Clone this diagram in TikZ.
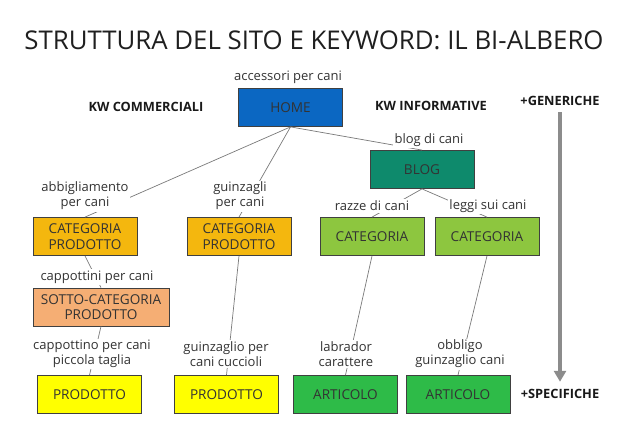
\documentclass[tikz,border=0pt]{standalone}
\usepackage{fontspec}
\setmainfont{Open Sans}
\usetikzlibrary{arrows.meta,positioning}
\definecolor{HomeBlue}{HTML}{0B67C2}
\definecolor{BlogTeal}{HTML}{0E8A6C}
\definecolor{CatGold}{HTML}{F4B70E}
\definecolor{SubPeach}{HTML}{F5AE74}
\definecolor{CatGreen}{HTML}{8DC63F}
\definecolor{ProdYellow}{HTML}{FFFF00}
\definecolor{ArtGreen}{HTML}{2EBB48}
\definecolor{TextDark}{HTML}{333333}
\definecolor{LinkGray}{HTML}{7A7A7A}
\definecolor{ArrowGray}{HTML}{8C8C8C}
\tikzset{
  pbox/.style={rectangle, draw=black!75, line width=0.8pt, align=center,
    minimum width=104pt, minimum height=38pt, inner sep=0pt,
    font=\fontsize{13.6}{15.5}\selectfont, text=TextDark},
  homebox/.style={pbox, fill=HomeBlue, text=black!80},
  blogbox/.style={pbox, fill=BlogTeal, text=black!80},
  catbox/.style={pbox, fill=CatGold},
  subbox/.style={pbox, fill=SubPeach, minimum width=136pt},
  greenbox/.style={pbox, fill=CatGreen},
  prodbox/.style={pbox, fill=ProdYellow},
  artbox/.style={pbox, fill=ArtGreen},
  kw/.style={fill=white, inner sep=1.5pt, align=center,
    font=\fontsize{13}{15}\selectfont, text=TextDark},
  side/.style={font=\bfseries\fontsize{12.8}{15}\selectfont, text=black!90},
  link/.style={draw=LinkGray, line width=0.7pt},
  arrow/.style={-{Triangle[length=11pt,width=12pt]}, line width=4pt, draw=ArrowGray}
}
\begin{document}
\begin{tikzpicture}[x=1pt, y=-1pt]
  \useasboundingbox[fill=white] (0,0) rectangle (630,436);
  \node[font=\fontsize{25.8}{30}\selectfont, text=black!88] (title) at (314,40)
    {STRUTTURA DEL SITO E KEYWORD: IL BI-ALBERO};

  % boxes
  \node[homebox] (home) at (290.5,107.5) {HOME};
  \node[blogbox] (blog) at (422,169.5) {BLOG};
  \node[catbox] (catA) at (85,236.5) {CATEGORIA\\PRODOTTO};
  \node[catbox] (catB) at (239,236.5) {CATEGORIA\\PRODOTTO};
  \node[greenbox] (catC) at (372,236.5) {CATEGORIA};
  \node[greenbox] (catD) at (487,236.5) {CATEGORIA};
  \node[subbox] (sub) at (101,307) {SOTTO-CATEGORIA\\PRODOTTO};
  \node[prodbox] (prodA) at (89.5,394.5) {PRODOTTO};
  \node[prodbox] (prodB) at (226.5,394.5) {PRODOTTO};
  \node[artbox] (artC) at (345.5,394.5) {ARTICOLO};
  \node[artbox] (artD) at (458,394.5) {ARTICOLO};

  % links
  \draw[link] (home.south) -- (catA.north);
  \draw[link] (home.south) -- (catB.north);
  \draw[link] (home.south) -- (blog.north);
  \draw[link] (blog.south) -- (catC.north);
  \draw[link] (blog.south) -- (catD.north);
  \draw[link] (catA.south) -- (sub.north);
  \draw[link] (sub.south) -- (prodA.north);
  \draw[link] (catB.south) -- (prodB.north);
  \draw[link] (catC.south) -- (artC.north);
  \draw[link] (catD.south) -- (artD.north);

  % keywords
  \node[kw] (kHome) at (288,77) {accessori per cani};
  \node[kw] (kBlog) at (429,140) {blog di cani};
  \node[kw] (kCatA) at (85,196) {abbigliamento\\per cani};
  \node[kw] (kCatB) at (240,196) {guinzagli\\per cani};
  \node[kw] (kCatC) at (372,206) {razze di cani};
  \node[kw] (kCatD) at (488,206) {leggi sui cani};
  \node[kw] (kSub) at (97,277) {cappottini per cani};
  \node[kw] (kProdA) at (92,354) {cappottino per cani\\piccola taglia};
  \node[kw] (kProdB) at (226,354) {guinzaglio per\\cani cuccioli};
  \node[kw] (kArtC) at (346,354) {labrador\\carattere};
  \node[kw] (kArtD) at (460,354) {obbligo\\guinzaglio cani};

  % sides
  \node[side] (comm) at (146,107) {KW COMMERCIALI};
  \node[side] (info) at (431,106) {KW INFORMATIVE};
  \node[side] (gen) at (560,101) {+GENERICHE};
  \node[side] (spec) at (560,394) {+SPECIFICHE};
  \draw[arrow] ([yshift=-3pt]gen.south) -- ([yshift=4pt]spec.north);
\end{tikzpicture}
\end{document}
